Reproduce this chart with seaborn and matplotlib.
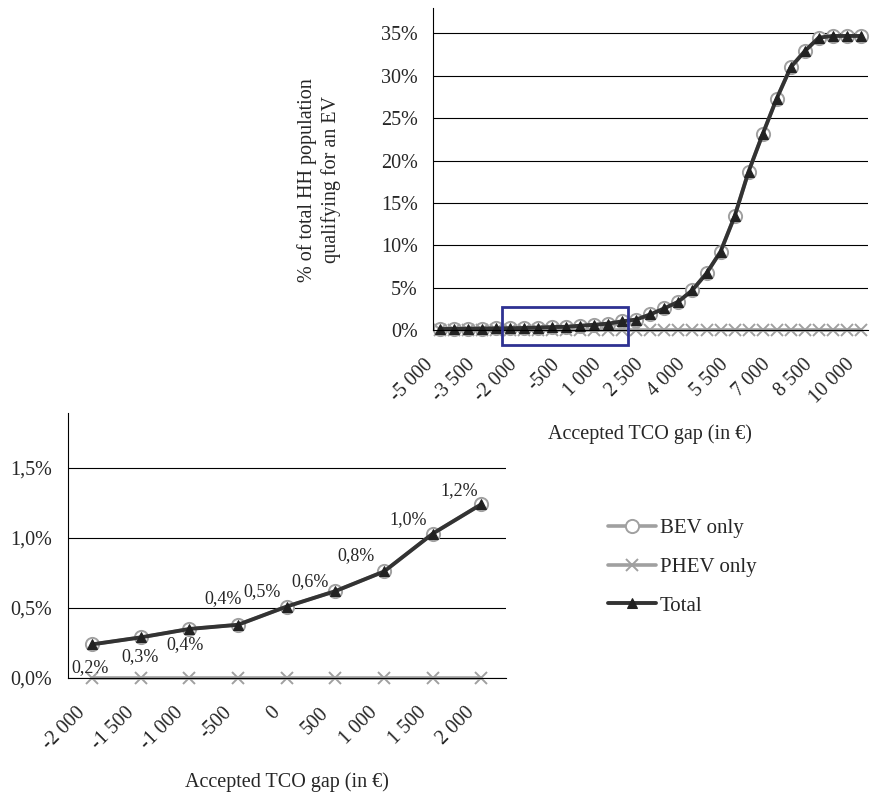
# %%
# Imports
import numpy as np
import matplotlib
matplotlib.use('Agg')
import matplotlib.pyplot as plt
import seaborn as sns
from matplotlib.patches import Rectangle
from matplotlib.ticker import FuncFormatter, FixedLocator
from matplotlib.transforms import ScaledTranslation

# %%
# Data (% of households)
gap_all = list(range(-5000, 10001, 500))
total_all = [0.12, 0.13, 0.15, 0.17, 0.19, 0.21, 0.24, 0.29, 0.35, 0.38, 0.51,
             0.62, 0.76, 1.03, 1.24, 1.85, 2.56, 3.35, 4.72, 6.69, 9.25,
             13.4, 18.7, 23.1, 27.3, 31.0, 32.9, 34.5, 34.7, 34.7, 34.7]
bev_all = [0.12, 0.13, 0.15, 0.17, 0.19, 0.21, 0.24, 0.29, 0.35, 0.38, 0.51,
           0.62, 0.76, 1.03, 1.24, 1.85, 2.56, 3.35, 4.72, 6.69, 9.25,
           13.4, 18.7, 23.1, 27.3, 31.0, 32.9, 34.5, 34.7, 34.7, 34.7]
phev_all = [0.0] * 31

gap_zoom = [-2000, -1500, -1000, -500, 0, 500, 1000, 1500, 2000]
total_zoom = [0.24, 0.29, 0.35, 0.38, 0.51, 0.62, 0.76, 1.03, 1.24]
bev_zoom = [0.24, 0.29, 0.35, 0.38, 0.51, 0.62, 0.76, 1.03, 1.24]
phev_zoom = [0.0] * 9
zoom_labels = ['0,2%', '0,3%', '0,4%', '0,4%', '0,5%', '0,6%', '0,8%', '1,0%', '1,2%']

# label offsets in pixels (dx, dy) relative to the points
label_offsets = [(-2, -23), (-1, -19), (-4, -16), (-15, 26), (-25, 15),
                 (-25, 10), (-28, 16), (-25, 14), (-22, 14)]

series_names = ['BEV only', 'PHEV only', 'Total']

# %%
# Styling
sns.set_style('white')
plt.rcParams['font.family'] = ['Liberation Serif', 'DejaVu Serif']
plt.rcParams['axes.unicode_minus'] = False

GREY = '#a0a0a0'
DARK = '#333333'


def fmtGap(v):
    return f'{v:,}'.replace(',', ' ')


def drawSeries(ax, x, bev, phev, total):
    sns.lineplot(x=x, y=bev, ax=ax, color=GREY, linewidth=2.6, marker='o',
                 markersize=9.5, markerfacecolor='white', markeredgecolor=GREY,
                 markeredgewidth=1.4, label=series_names[0], clip_on=False)
    sns.lineplot(x=x, y=phev, ax=ax, color=GREY, linewidth=2.6, marker='x',
                 markersize=8, markeredgecolor=GREY, markeredgewidth=1.4,
                 label=series_names[1], clip_on=False)
    sns.lineplot(x=x, y=total, ax=ax, color=DARK, linewidth=2.8, marker='^',
                 markersize=7, markerfacecolor='#222222', markeredgecolor='#222222',
                 label=series_names[2], clip_on=False)


def styleAxis(ax, n, ymax):
    ax.set_xlim(-0.5, n - 0.5)
    ax.set_ylim(0, ymax)
    for side in ['top', 'right']:
        ax.spines[side].set_visible(False)
    for side in ['left', 'bottom']:
        ax.spines[side].set_color('black')
        ax.spines[side].set_linewidth(0.8)
    ax.yaxis.grid(True, color='black', linewidth=0.8)
    ax.set_axisbelow(True)
    ax.xaxis.set_minor_locator(FixedLocator(np.arange(n + 1) - 0.5))
    ax.tick_params(axis='x', which='minor', length=4, width=0.8, color='black', direction='out')
    ax.tick_params(axis='x', which='major', length=0, labelsize=14.5, pad=1)
    ax.tick_params(axis='y', length=4, width=0.8, color='black', direction='out',
                   labelsize=14.5, pad=7)
    shift = ScaledTranslation(-16 / 100, -24 / 100, ax.figure.dpi_scale_trans)
    for lab in ax.get_xticklabels():
        lab.set_rotation(45)
        lab.set_ha('right')
        lab.set_va('top')
        lab.set_rotation_mode('anchor')
        lab.set_transform(lab.get_transform() + shift)


fig = plt.figure(figsize=(8.71, 7.92), dpi=100)

# %%
# Top chart: full range
ax1 = fig.add_axes([0.497, 0.5833, 0.4994, 0.4066])
pos_all = np.arange(len(gap_all))
drawSeries(ax1, pos_all, bev_all, phev_all, total_all)
ax1.set_xticks(pos_all[::3])
ax1.set_xticklabels([fmtGap(g) for g in gap_all[::3]])
ax1.set_yticks(np.arange(0, 36, 5))
ax1.yaxis.set_major_formatter(FuncFormatter(lambda v, p: f'{v:.0f}%'))
styleAxis(ax1, len(gap_all), 38)
ax1.set_xlabel('Accepted TCO gap (in €)', fontsize=14.5)
ax1.xaxis.set_label_coords(0.5, -0.293)
ax1.set_ylabel('% of total HH population\nqualifying for an EV', fontsize=14.5,
               linespacing=1.25)
ax1.yaxis.set_label_coords(-0.212, 0.466)
ax1.add_patch(Rectangle((4.42, -1.8), 9.0, 4.5, fill=False, edgecolor='#2e3192',
                        linewidth=2, clip_on=False, zorder=5))
ax1.get_legend().remove()

# %%
# Bottom chart: zoom -2000..2000
ax2 = fig.add_axes([0.0777, 0.1439, 0.503, 0.3346])
pos_zoom = np.arange(len(gap_zoom))
drawSeries(ax2, pos_zoom, bev_zoom, phev_zoom, total_zoom)
ax2.set_xticks(pos_zoom)
ax2.set_xticklabels([fmtGap(g) for g in gap_zoom])
ax2.set_yticks([0, 0.5, 1.0, 1.5])
ax2.yaxis.set_major_formatter(FuncFormatter(lambda v, p: f'{v:.1f}%'.replace('.', ',')))
styleAxis(ax2, len(gap_zoom), 1.89)
ax2.set_xlabel('Accepted TCO gap (in €)', fontsize=14.5)
ax2.xaxis.set_label_coords(0.5, -0.354)
for x, y, txt, (dx, dy) in zip(pos_zoom, total_zoom, zoom_labels, label_offsets):
    ax2.annotate(txt, (x, y), xytext=(dx, dy), textcoords='offset pixels',
                 ha='center', va='center', fontsize=13)

handles, labels = ax2.get_legend_handles_labels()
ax2.get_legend().remove()
fig.legend(handles, labels, loc='center left', bbox_to_anchor=(0.6765, 0.284),
           frameon=False, fontsize=15, handlelength=2.3, handletextpad=0.2,
           labelspacing=0.92)

fig.savefig('out.png', dpi=100)
